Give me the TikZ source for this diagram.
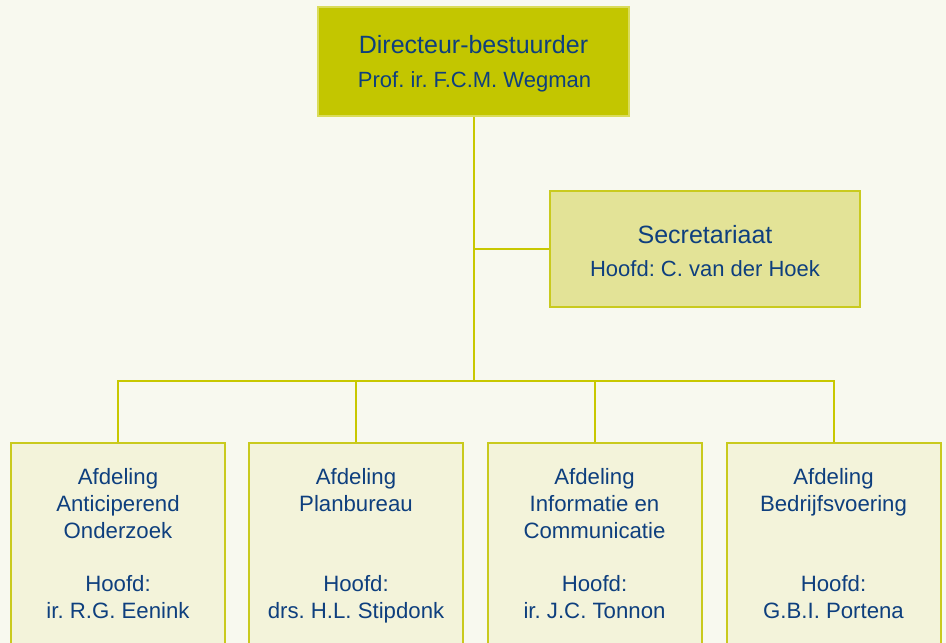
\documentclass[tikz,border=0pt]{standalone}
\usepackage{fontspec}
\setmainfont{Liberation Sans}
\frenchspacing
\definecolor{bg}{HTML}{F8F9EF}
\definecolor{txtblue}{HTML}{0E3F7E}
\definecolor{dirfill}{HTML}{C3C600}
\definecolor{dirline}{HTML}{DADC5A}
\definecolor{secfill}{HTML}{E3E397}
\definecolor{boxline}{HTML}{C9CA1E}
\definecolor{afdfill}{HTML}{F3F3DA}
\definecolor{conn}{HTML}{C8C800}
\begin{document}
\begin{tikzpicture}[x=1pt,y=-1pt,
  orgbox/.style={rectangle, inner sep=0pt, line width=2pt, draw=boxline},
  dirbox/.style={orgbox, fill=dirfill, draw=dirline, minimum width=311pt, minimum height=109pt},
  secbox/.style={orgbox, fill=secfill, minimum width=310pt, minimum height=116pt},
  afdbox/.style={orgbox, fill=afdfill, minimum width=214pt, minimum height=217pt},
  conline/.style={draw=conn, line width=2pt},
  bigtxt/.style={text=txtblue, font=\fontsize{25}{28}\selectfont, inner sep=0pt, anchor=base},
  midtxt/.style={text=txtblue, font=\fontsize{22}{25}\selectfont, inner sep=0pt, anchor=base},
  afdtxt/.style={text=txtblue, font=\fontsize{22.2}{26.8}\selectfont, inner sep=0pt, anchor=base, align=center}
]
\useasboundingbox (0,0) rectangle (946,643);
\fill[bg] (0,0) rectangle (946,643);
\clip (0,0) rectangle (946,643);

% boxes
\node[dirbox] (dir) at (473.5,61.5) {};
\node[secbox] (sec) at (705,249) {};
\node[afdbox] (a1) at (118,551.5) {};
\node[afdbox] (a2) at (356,551.5) {};
\node[afdbox] (a3) at (594.5,551.5) {};
\node[afdbox] (a4) at (833.5,551.5) {};

% connectors
\coordinate (bus) at (473.5,381);
\draw[conline] (dir.south) -- (bus);
\draw[conline] (sec.west) -- (sec.west -| dir.south);
\draw[conline] (a1.north) |- (bus) -| (a4.north);
\draw[conline] (a2.north) -- (a2.north |- bus);
\draw[conline] (a3.north) -- (a3.north |- bus);

% texts
\node[bigtxt] (dt1) at (473.5,53) {Directeur-bestuurder};
\node[midtxt] (dt2) at (474.5,87) {Prof. ir. F.C.M. Wegman};
\node[bigtxt] (st1) at (705,243) {Secretariaat};
\node[midtxt] (st2) at (705,276) {Hoofd: C. van der Hoek};

% multi-line nodes: base anchor = baseline of last line
\node[afdtxt] (t1) at (118,538.1) {Afdeling\\Anticiperend\\Onderzoek};
\node[afdtxt] (h1) at (118,618.5) {Hoofd:\\ir. R.G. Eenink};
\node[afdtxt] (t2) at (356,511.3) {Afdeling\\Planbureau};
\node[afdtxt] (h2) at (356,618.5) {Hoofd:\\drs. H.L. Stipdonk};
\node[afdtxt] (t3) at (594.5,538.1) {Afdeling\\Informatie en\\Communicatie};
\node[afdtxt] (h3) at (594.5,618.5) {Hoofd:\\ir. J.C. Tonnon};
\node[afdtxt] (t4) at (833.5,511.3) {Afdeling\\Bedrijfsvoering};
\node[afdtxt] (h4) at (833.5,618.5) {Hoofd:\\G.B.I. Portena};
\end{tikzpicture}
\end{document}
